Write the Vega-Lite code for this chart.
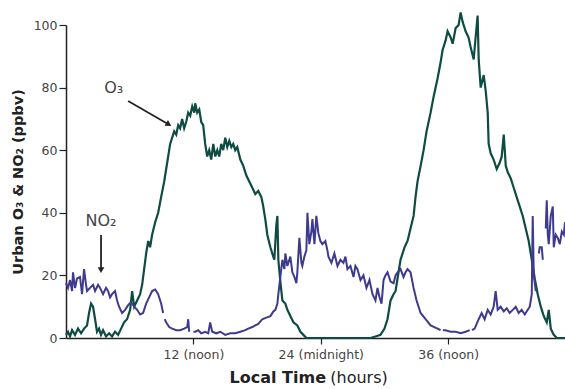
{
  "$schema": "https://vega.github.io/schema/vega-lite/v6.json",
  "width": 499,
  "height": 313,
  "autosize": {"type": "none"},
  "padding": {"left": 66, "top": 25, "right": 0, "bottom": 51},
  "background": "white",
  "config": {
    "view": {"stroke": null},
    "font": "DejaVu Sans",
    "axis": {"grid": false, "domainColor": "#222", "domainWidth": 1.5, "tickColor": "#222", "tickWidth": 1.2, "labelColor": "#444", "labelFont": "DejaVu Sans", "labelFontSize": 12, "titleColor": "#222", "titleFont": "DejaVu Sans"}
  },
  "datasets": {
    "o3": [
      {"t":0,"v":1},{"t":0.19,"v":2},{"t":0.38,"v":0.5},{"t":0.57,"v":2.5},{"t":0.85,"v":1},{"t":1.13,"v":3},{"t":1.42,"v":1.5},{"t":1.7,"v":3},{"t":1.98,"v":4},{"t":2.17,"v":8},{"t":2.36,"v":11},{"t":2.55,"v":10},{"t":2.74,"v":6},{"t":2.92,"v":2},{"t":3.11,"v":3},{"t":3.3,"v":1},{"t":3.49,"v":2.5},{"t":3.77,"v":0.5},{"t":4.06,"v":1.5},{"t":4.34,"v":0.5},{"t":4.62,"v":2},{"t":4.91,"v":1},{"t":5.19,"v":3},{"t":5.47,"v":5},{"t":5.75,"v":6},{"t":6.04,"v":9},{"t":6.23,"v":15},{"t":6.42,"v":10},{"t":6.7,"v":12},{"t":6.98,"v":14},{"t":7.17,"v":17},{"t":7.36,"v":22},{"t":7.55,"v":27},{"t":7.74,"v":31},{"t":7.92,"v":29},{"t":8.11,"v":33},{"t":8.4,"v":37},{"t":8.68,"v":40},{"t":8.96,"v":45},{"t":9.25,"v":50},{"t":9.53,"v":56},{"t":9.81,"v":62},{"t":10.0,"v":64},{"t":10.19,"v":66},{"t":10.38,"v":65},{"t":10.57,"v":68},{"t":10.75,"v":67},{"t":10.94,"v":70},{"t":11.13,"v":67},{"t":11.32,"v":69},{"t":11.51,"v":72},{"t":11.7,"v":71},{"t":11.89,"v":74},{"t":12.08,"v":72},{"t":12.17,"v":75},{"t":12.36,"v":72},{"t":12.55,"v":73},{"t":12.74,"v":69},{"t":12.92,"v":68},{"t":13.11,"v":62},{"t":13.3,"v":58},{"t":13.49,"v":60},{"t":13.68,"v":57},{"t":13.87,"v":62},{"t":14.06,"v":58},{"t":14.25,"v":60},{"t":14.43,"v":58},{"t":14.62,"v":62},{"t":14.81,"v":60},{"t":15.0,"v":64},{"t":15.19,"v":61},{"t":15.38,"v":63},{"t":15.57,"v":61},{"t":15.75,"v":62},{"t":15.94,"v":60},{"t":16.13,"v":61},{"t":16.42,"v":57},{"t":16.7,"v":55},{"t":16.98,"v":52},{"t":17.26,"v":50},{"t":17.55,"v":48},{"t":17.83,"v":46},{"t":18.11,"v":47},{"t":18.4,"v":45},{"t":18.58,"v":42},{"t":18.77,"v":38},{"t":18.96,"v":33},{"t":19.25,"v":29},{"t":19.43,"v":27},{"t":19.62,"v":25},{"t":19.81,"v":36},{"t":19.91,"v":39},{"t":20.0,"v":25},{"t":20.19,"v":18},{"t":20.38,"v":12},{"t":20.66,"v":11},{"t":20.85,"v":9},{"t":21.13,"v":7},{"t":21.42,"v":5},{"t":21.79,"v":4},{"t":22.08,"v":2},{"t":22.36,"v":1},{"t":22.64,"v":0},{"t":28.68,"v":0},{"t":29.15,"v":0.5},{"t":29.62,"v":1},{"t":30.0,"v":3},{"t":30.28,"v":6},{"t":30.57,"v":12},{"t":30.85,"v":14},{"t":31.04,"v":15},{"t":31.32,"v":21},{"t":31.51,"v":25},{"t":31.89,"v":29},{"t":32.17,"v":31},{"t":32.45,"v":35},{"t":32.74,"v":39},{"t":32.92,"v":45},{"t":33.11,"v":50},{"t":33.4,"v":55},{"t":33.68,"v":60},{"t":33.96,"v":66},{"t":34.34,"v":72},{"t":34.62,"v":77},{"t":35.0,"v":83},{"t":35.28,"v":88},{"t":35.47,"v":92},{"t":35.75,"v":95},{"t":35.94,"v":98},{"t":36.23,"v":96},{"t":36.42,"v":94},{"t":36.7,"v":99},{"t":36.98,"v":100},{"t":37.17,"v":104},{"t":37.36,"v":101},{"t":37.64,"v":98},{"t":37.92,"v":96},{"t":38.11,"v":93},{"t":38.4,"v":89},{"t":38.58,"v":96},{"t":38.77,"v":103},{"t":38.87,"v":89},{"t":39.06,"v":80},{"t":39.34,"v":84},{"t":39.53,"v":79},{"t":39.72,"v":72},{"t":39.81,"v":62},{"t":40.0,"v":59},{"t":40.28,"v":57},{"t":40.57,"v":54},{"t":40.85,"v":56},{"t":41.04,"v":58},{"t":41.23,"v":65},{"t":41.42,"v":55},{"t":41.6,"v":53},{"t":41.89,"v":51},{"t":42.17,"v":48},{"t":42.45,"v":45},{"t":42.74,"v":42},{"t":43.02,"v":39},{"t":43.3,"v":35},{"t":43.58,"v":31},{"t":43.87,"v":25},{"t":44.15,"v":19},{"t":44.43,"v":14},{"t":44.72,"v":10},{"t":45.0,"v":7},{"t":45.28,"v":5},{"t":45.47,"v":9},{"t":45.66,"v":3},{"t":45.94,"v":1},{"t":46.23,"v":0},{"t":47.0,"v":0}
    ],
    "no2": [
      {"t":0,"v":17.5},{"t":0.19,"v":16},{"t":0.38,"v":18.5},{"t":0.57,"v":15},{"t":0.66,"v":21},{"t":0.85,"v":16},{"t":1.04,"v":19},{"t":1.32,"v":19.5},{"t":1.51,"v":14},{"t":1.7,"v":22},{"t":1.89,"v":17},{"t":1.98,"v":15},{"t":2.26,"v":16},{"t":2.55,"v":17},{"t":2.74,"v":15},{"t":3.02,"v":17},{"t":3.21,"v":16},{"t":3.49,"v":14},{"t":3.77,"v":16},{"t":3.96,"v":15},{"t":4.15,"v":13},{"t":4.34,"v":14},{"t":4.62,"v":15},{"t":4.81,"v":12},{"t":5.0,"v":10},{"t":5.28,"v":8},{"t":5.57,"v":9},{"t":5.85,"v":10.5},{"t":6.13,"v":11.5},{"t":6.42,"v":10},{"t":6.7,"v":9},{"t":6.98,"v":7.5},{"t":7.26,"v":8},{"t":7.55,"v":11},{"t":7.83,"v":13},{"t":8.11,"v":15},{"t":8.4,"v":15.5},{"t":8.68,"v":14},{"t":8.96,"v":11},{"t":9.15,"v":8},{"t":9.2,"v":null},{"t":9.3,"v":6},{"t":9.43,"v":5},{"t":9.72,"v":3.5},{"t":10.0,"v":3},{"t":10.38,"v":2.5},{"t":10.75,"v":2.5},{"t":11.13,"v":3},{"t":11.42,"v":3.5},{"t":11.51,"v":6},{"t":11.6,"v":2},{"t":11.79,"v":null},{"t":12.0,"v":2},{"t":12.17,"v":2},{"t":12.45,"v":2.5},{"t":12.74,"v":1.5},{"t":13.11,"v":2},{"t":13.4,"v":1.5},{"t":13.58,"v":5},{"t":13.77,"v":2},{"t":14.15,"v":1.5},{"t":14.53,"v":2},{"t":15.0,"v":1},{"t":15.47,"v":1.5},{"t":15.94,"v":1.5},{"t":16.42,"v":2},{"t":16.89,"v":2.5},{"t":17.17,"v":3},{"t":17.55,"v":3.5},{"t":17.83,"v":4},{"t":18.11,"v":4.5},{"t":18.49,"v":6},{"t":18.87,"v":6.5},{"t":19.25,"v":7},{"t":19.53,"v":8.5},{"t":19.72,"v":9},{"t":19.91,"v":11},{"t":20.0,"v":14},{"t":20.19,"v":19.5},{"t":20.38,"v":25},{"t":20.57,"v":22},{"t":20.66,"v":27},{"t":20.85,"v":23},{"t":21.13,"v":26},{"t":21.32,"v":21},{"t":21.51,"v":19.5},{"t":21.7,"v":17.5},{"t":21.79,"v":21},{"t":21.98,"v":32},{"t":22.17,"v":24},{"t":22.26,"v":23},{"t":22.45,"v":26},{"t":22.64,"v":28},{"t":22.74,"v":40},{"t":22.92,"v":30},{"t":23.11,"v":34},{"t":23.21,"v":38},{"t":23.4,"v":30},{"t":23.58,"v":39},{"t":23.77,"v":33.5},{"t":23.96,"v":31},{"t":24.15,"v":30},{"t":24.43,"v":31},{"t":24.62,"v":28},{"t":24.72,"v":26},{"t":25.0,"v":24},{"t":25.28,"v":27},{"t":25.57,"v":23},{"t":25.85,"v":25},{"t":26.13,"v":24},{"t":26.32,"v":26},{"t":26.51,"v":22},{"t":26.79,"v":23},{"t":27.08,"v":19.5},{"t":27.26,"v":23},{"t":27.45,"v":22},{"t":27.74,"v":18.5},{"t":28.02,"v":20},{"t":28.3,"v":16},{"t":28.58,"v":18.5},{"t":28.87,"v":14},{"t":29.15,"v":12},{"t":29.34,"v":16},{"t":29.53,"v":13},{"t":29.72,"v":11},{"t":29.91,"v":18.5},{"t":30.09,"v":20},{"t":30.28,"v":21},{"t":30.57,"v":18},{"t":30.85,"v":17.5},{"t":31.04,"v":20},{"t":31.23,"v":21},{"t":31.51,"v":22},{"t":31.79,"v":19.5},{"t":31.98,"v":21},{"t":32.17,"v":22},{"t":32.45,"v":21},{"t":32.74,"v":16},{"t":33.02,"v":12},{"t":33.4,"v":8},{"t":33.87,"v":6},{"t":34.34,"v":4},{"t":35.0,"v":3},{"t":35.28,"v":2.5},{"t":35.38,"v":null},{"t":35.5,"v":2.5},{"t":35.75,"v":2.5},{"t":36.23,"v":2},{"t":36.7,"v":2},{"t":37.17,"v":1.5},{"t":37.64,"v":2},{"t":38.02,"v":2.5},{"t":38.12,"v":null},{"t":38.25,"v":2.5},{"t":38.49,"v":3},{"t":38.87,"v":6},{"t":39.15,"v":8},{"t":39.43,"v":6},{"t":39.72,"v":9},{"t":40.0,"v":7.5},{"t":40.28,"v":10},{"t":40.47,"v":15},{"t":40.66,"v":9},{"t":40.94,"v":10},{"t":41.23,"v":8.5},{"t":41.51,"v":9.5},{"t":41.79,"v":8},{"t":42.08,"v":9},{"t":42.36,"v":10},{"t":42.64,"v":8},{"t":42.92,"v":9},{"t":43.21,"v":7.5},{"t":43.49,"v":9},{"t":43.68,"v":10},{"t":43.87,"v":14},{"t":43.96,"v":39},{"t":44.06,"v":20},{"t":44.25,"v":15},{"t":44.34,"v":null},{"t":44.53,"v":27},{"t":44.62,"v":29},{"t":44.81,"v":29},{"t":44.91,"v":25},{"t":45.0,"v":null},{"t":45.19,"v":35},{"t":45.28,"v":44},{"t":45.38,"v":33},{"t":45.47,"v":30},{"t":45.66,"v":39},{"t":45.85,"v":42},{"t":45.94,"v":29},{"t":46.13,"v":33},{"t":46.32,"v":32},{"t":46.51,"v":30},{"t":46.7,"v":34},{"t":46.89,"v":33},{"t":47.0,"v":37}
    ],
    "labels": [
      {"t":4.5,"v":80,"label":"O₃"},
      {"t":3.3,"v":37.4,"label":"NO₂"}
    ],
    "arrows": [
      {"t":5.85,"v":75.7,"t2":9.6,"v2":68.4},
      {"t":3.3,"v":32.9,"t2":3.3,"v2":22}
    ],
    "xtitleBold": [
      {"t":19.95,"v":-12.8,"label":"Local Time"}
    ],
    "xtitleNormal": [
      {"t":27.6,"v":-12.8,"label":"(hours)"}
    ]
  },
  "layer": [
    {
      "data": {"name": "o3"},
      "mark": {"type": "line", "color": "#0e4b43", "strokeWidth": 2.2, "invalid": "break-paths-show-domains"},
      "encoding": {
        "x": {"field": "t", "type": "quantitative", "scale": {"domain": [0, 47], "nice": false},
          "axis": {"values": [12, 24, 36], "labelExpr": "datum.value == 12 ? '12 (noon)' : datum.value == 24 ? '24 (midnight)' : '36 (noon)'", "tickSize": 6, "labelPadding": 4, "labelFontSize": 12.5, "title": null}},
        "y": {"field": "v", "type": "quantitative", "scale": {"domain": [0, 100], "nice": false},
          "axis": {"values": [0, 20, 40, 60, 80, 100], "tickSize": 7, "labelPadding": 2, "labelFontSize": 12.5, "title": "Urban O₃ & NO₂ (ppbv)", "titleFontSize": 14.5, "titleFontWeight": "bold", "titlePadding": 8}}
      }
    },
    {
      "data": {"name": "no2"},
      "mark": {"type": "line", "color": "#3d3a8f", "strokeWidth": 2, "invalid": "break-paths-show-domains"},
      "encoding": {
        "x": {"field": "t", "type": "quantitative"},
        "y": {"field": "v", "type": "quantitative"}
      }
    },
    {
      "data": {"name": "labels"},
      "mark": {"type": "text", "fontSize": 16, "color": "#444", "align": "center", "baseline": "middle"},
      "encoding": {
        "x": {"field": "t", "type": "quantitative"},
        "y": {"field": "v", "type": "quantitative"},
        "text": {"field": "label"}
      }
    },
    {
      "data": {"name": "arrows"},
      "mark": {"type": "rule", "color": "#222", "strokeWidth": 1.8},
      "encoding": {
        "x": {"field": "t", "type": "quantitative"},
        "y": {"field": "v", "type": "quantitative"},
        "x2": {"field": "t2"},
        "y2": {"field": "v2"}
      }
    },
    {
      "data": {"name": "arrows"},
      "transform": [{"filter": "datum.t2 != datum.t"}],
      "mark": {"type": "point", "shape": "triangle", "angle": 121, "filled": true, "color": "#222", "size": 45, "opacity": 1},
      "encoding": {
        "x": {"field": "t2", "type": "quantitative"},
        "y": {"field": "v2", "type": "quantitative"}
      }
    },
    {
      "data": {"name": "arrows"},
      "transform": [{"filter": "datum.t2 == datum.t"}],
      "mark": {"type": "point", "shape": "triangle", "angle": 180, "filled": true, "color": "#222", "size": 45, "opacity": 1},
      "encoding": {
        "x": {"field": "t2", "type": "quantitative"},
        "y": {"field": "v2", "type": "quantitative"}
      }
    },
    {
      "data": {"name": "xtitleBold"},
      "mark": {"type": "text", "fontSize": 16, "fontWeight": "bold", "color": "#222", "align": "center", "baseline": "middle"},
      "encoding": {
        "x": {"field": "t", "type": "quantitative"},
        "y": {"field": "v", "type": "quantitative"},
        "text": {"field": "label"}
      }
    },
    {
      "data": {"name": "xtitleNormal"},
      "mark": {"type": "text", "fontSize": 16, "fontWeight": "normal", "color": "#222", "align": "center", "baseline": "middle"},
      "encoding": {
        "x": {"field": "t", "type": "quantitative"},
        "y": {"field": "v", "type": "quantitative"},
        "text": {"field": "label"}
      }
    }
  ]
}
